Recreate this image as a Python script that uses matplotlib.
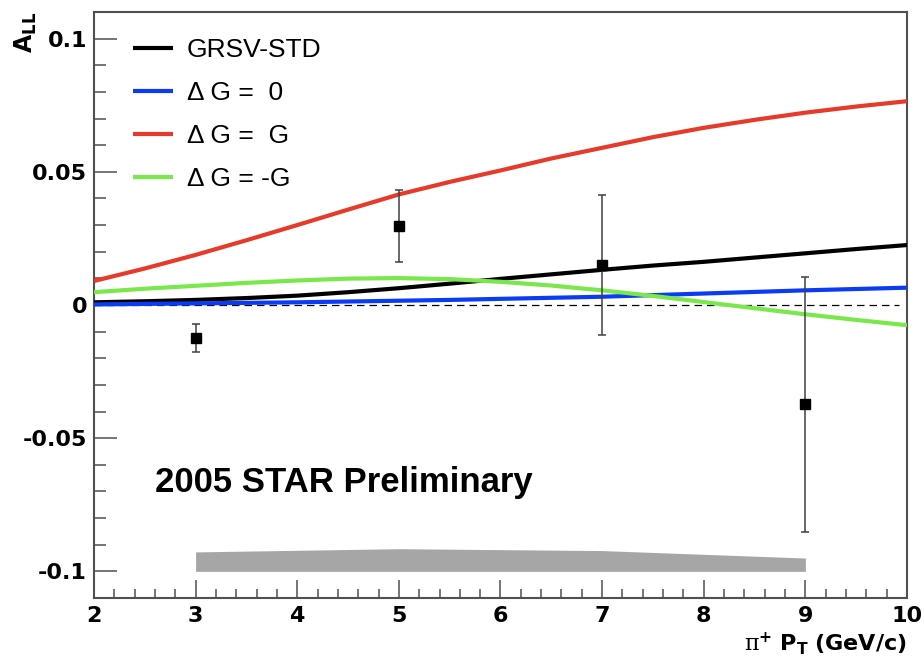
import numpy as np
import matplotlib
matplotlib.use("Agg")
import matplotlib.pyplot as plt
from matplotlib.ticker import MultipleLocator

plt.rcParams['mathtext.fontset'] = 'custom'
plt.rcParams['mathtext.rm'] = 'DejaVu Serif'
plt.rcParams['mathtext.bf'] = 'DejaVu Sans:bold'
plt.rcParams['mathtext.it'] = 'DejaVu Serif:italic'

# ---- data ----
pt_curve = [2.0, 2.5, 3.0, 3.5, 4.0, 4.5, 5.0, 5.5, 6.0, 6.5, 7.0, 7.5, 8.0, 8.5, 9.0, 9.5, 10.0]
grsv_std = [0.0010, 0.0014, 0.0019, 0.0026, 0.0035, 0.0048, 0.0063, 0.0080, 0.0098,
            0.0115, 0.0132, 0.0148, 0.0162, 0.0178, 0.0194, 0.0210, 0.0225]
dg_zero = [0.0002, 0.0004, 0.0006, 0.0008, 0.0010, 0.0013, 0.0016, 0.0019, 0.0023,
           0.0027, 0.0031, 0.0037, 0.0043, 0.0049, 0.0055, 0.0060, 0.0065]
dg_plus = [0.0090, 0.0137, 0.0188, 0.0243, 0.0300, 0.0358, 0.0415, 0.0462, 0.0505,
           0.0550, 0.0590, 0.0630, 0.0665, 0.0695, 0.0722, 0.0745, 0.0765]
dg_minus = [0.0048, 0.0061, 0.0072, 0.0083, 0.0092, 0.0099, 0.0101, 0.0097, 0.0087,
            0.0073, 0.0055, 0.0034, 0.0011, -0.0012, -0.0035, -0.0056, -0.0076]

pt_data = [3, 5, 7, 9]
all_data = [-0.0125, 0.0297, 0.0150, -0.0373]
all_err = [0.0053, 0.0135, 0.0263, 0.0478]

sys_base = -0.1
sys_height = [0.0073, 0.0085, 0.0078, 0.0050]

curve_labels = ["GRSV-STD", "\u0394 G =  0", "\u0394 G =  G", "\u0394 G = -G"]
curve_colors = ["#000000", "#0a3cf5", "#e63a2a", "#7ae84a"]

# ---- figure ----
fig = plt.figure(figsize=(9.24, 6.58), dpi=100)
ax = fig.add_axes([0.1017, 0.0912, 0.8799, 0.8906])

ax.axhline(0, xmin=0, xmax=0.99, color='black', lw=0.9, ls=(0, (6, 4)), zorder=1)

for y, lab, c in zip([grsv_std, dg_zero, dg_plus, dg_minus], curve_labels, curve_colors):
    ax.plot(pt_curve, y, color=c, lw=3, label=lab, zorder=3, solid_capstyle='butt')

ax.errorbar(pt_data, all_data, yerr=all_err, fmt='s', color='black', ms=7,
            ecolor='#404040', elinewidth=1.1, capsize=3, capthick=1.1, zorder=5)

sys_top = [sys_base + h for h in sys_height]
ax.fill_between(pt_data, [sys_base] * len(pt_data), sys_top, color='#a6a6a6', lw=0, zorder=2)

ax.text(2.6, -0.0668, "2005 STAR Preliminary", fontsize=25, fontweight='bold',
        family='Liberation Sans', va='center', ha='left')

ax.set_xlim(2, 10)
ax.set_ylim(-0.11, 0.11)
ax.xaxis.set_major_locator(MultipleLocator(1))
ax.xaxis.set_minor_locator(MultipleLocator(0.2))
ax.yaxis.set_major_locator(MultipleLocator(0.05))
ax.yaxis.set_minor_locator(MultipleLocator(0.01))
ax.set_yticks([-0.1, -0.05, 0, 0.05, 0.1])
ax.set_yticklabels(["-0.1", "-0.05", "0", "0.05", "0.1"])

frame_c = '#505050'
for s in ax.spines.values():
    s.set_color(frame_c)
    s.set_linewidth(1.5)
ax.tick_params(axis='x', which='major', direction='in', length=13, width=1.1, color=frame_c,
               labelsize=16, pad=5.5)
ax.tick_params(axis='x', which='minor', direction='in', length=6.5, width=1.1, color=frame_c)
ax.tick_params(axis='y', which='major', direction='in', length=16.5, width=1.1, color=frame_c,
               labelsize=16, pad=5)
ax.tick_params(axis='y', which='minor', direction='in', length=8.5, width=1.1, color=frame_c)
for lab in ax.get_xticklabels() + ax.get_yticklabels():
    lab.set_fontweight('bold')
    lab.set_family('DejaVu Sans')

fig.text(0.028, 0.982, r'$\mathbf{A_{LL}}$', rotation=90, fontsize=17, ha='center', va='top')
fig.text(0.981, 0.002, r'$\mathrm{\pi}^{\mathbf{+}}$ $\mathbf{P_{T}}$ $\mathbf{(GeV/c)}$',
         fontsize=16, ha='right', va='bottom')

leg = ax.legend(loc='upper left', bbox_to_anchor=(0.035, 0.974), frameon=False,
                prop={'family': 'Liberation Sans', 'size': 19}, handlelength=1.5,
                handletextpad=0.55, labelspacing=0.72, borderaxespad=0)

fig.savefig("out.png", dpi=100)
